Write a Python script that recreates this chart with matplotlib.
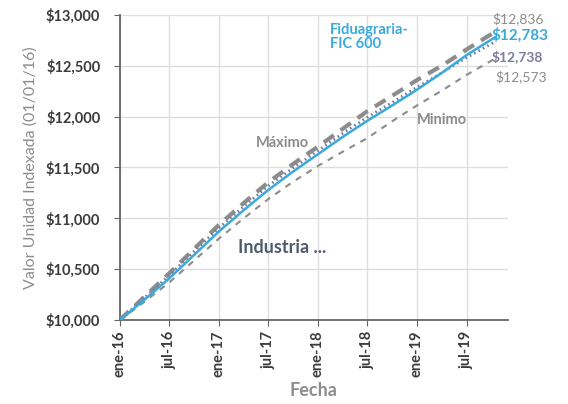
import numpy as np
import matplotlib
matplotlib.use('Agg')
import matplotlib.pyplot as plt

plt.rcParams['font.family'] = ['Lato', 'DejaVu Sans']

# months since ene-16
meses = [0, 3, 6, 9, 12, 15, 18, 21, 24, 27, 30, 33, 36, 39, 42, 45.5]
fiduagraria = [10000, 10200, 10410, 10640, 10870, 11080, 11280, 11460, 11630,
               11800, 11960, 12110, 12265, 12430, 12605, 12783]
maximo = [10000, 10230, 10460, 10700, 10935, 11150, 11355, 11535, 11705,
          11880, 12055, 12205, 12360, 12500, 12660, 12836]
industria = [10000, 10220, 10440, 10675, 10905, 11115, 11320, 11495, 11665,
             11835, 11995, 12140, 12290, 12430, 12580, 12738]
minimo = [10000, 10180, 10370, 10585, 10800, 11000, 11190, 11360, 11515,
          11655, 11790, 11955, 12110, 12255, 12410, 12573]

xticks = [0, 6, 12, 18, 24, 30, 36, 42]
xticklabels = ['ene-16', 'jul-16', 'ene-17', 'jul-17', 'ene-18', 'jul-18', 'ene-19', 'jul-19']
yticks = [10000, 10500, 11000, 11500, 12000, 12500, 13000]

azul = '#3aa9dc'
gris = '#8c8c8c'
morado = '#7a7d9c'
oscuro = '#3b3b3b'

fig = plt.figure(figsize=(5.68, 4.04), dpi=100)
ax = fig.add_axes([0.211, 0.208, 0.683, 0.755])

ax.plot(meses, maximo, color=gris, lw=3, ls=(0, (3, 2)), zorder=3)
ax.plot(meses, minimo, color=gris, lw=1.5, ls=(0, (3, 3)), zorder=3)
ax.plot(meses, industria, color=morado, lw=2, ls=(0, (0.6, 1.2)), zorder=4)
ax.plot(meses, fiduagraria, color=azul, lw=1.8, zorder=5)

ax.set_xlim(0, 47)
ax.set_ylim(10000, 13000)
ax.set_xticks(xticks)
ax.set_xticklabels(xticklabels, rotation=90, fontweight='bold', fontsize=10.5, color=oscuro)
ax.set_yticks(yticks)
ax.set_yticklabels(['$' + format(v, ',') for v in yticks], fontweight='bold', fontsize=10.5, color=oscuro)
ax.grid(True, color='#dedede', lw=1)
ax.set_axisbelow(True)
for s in ['top', 'right']:
    ax.spines[s].set_visible(False)
for s in ['left', 'bottom']:
    ax.spines[s].set_color('#666666')
    ax.spines[s].set_linewidth(1.3)
ax.tick_params(axis='both', colors='#666666', labelcolor=oscuro, length=4)
ax.tick_params(axis='y', pad=10)

ax.set_xlabel('Fecha', fontsize=13, fontweight='bold', color=gris, labelpad=4)
ax.set_ylabel('Valor Unidad Indexada (01/01/16)', fontsize=11.5, color=gris, labelpad=6)

ax.text(25.5, 12780, 'Fiduagraria-\nFIC 600', color=azul, fontsize=10.5, fontweight='bold',
        va='center', ha='left', linespacing=1.0)
ax.text(16.5, 11740, 'Máximo', color=gris, fontsize=10.5, fontweight='bold', ha='left', va='center')
ax.text(36, 11970, 'Minimo', color=gris, fontsize=10.5, fontweight='bold', ha='left', va='center')
ax.text(14.3, 10710, 'Industria ...', color='#4f5a6b', fontsize=13, fontweight='bold',
        ha='left', va='center')

ax.text(45.1, 12960, '$' + format(maximo[-1], ','), color=gris, fontsize=10, ha='left', va='center', clip_on=False)
ax.text(45.0, 12800, '$' + format(fiduagraria[-1], ','), color=azul, fontsize=11, fontweight='bold',
        ha='left', va='center', clip_on=False)
ax.text(45.0, 12590, '$' + format(industria[-1], ','), color=morado, fontsize=10, fontweight='bold',
        ha='left', va='center', clip_on=False)
ax.text(45.5, 12390, '$' + format(minimo[-1], ','), color=gris, fontsize=10, ha='left', va='center', clip_on=False)

fig.savefig('out.png', dpi=100)
